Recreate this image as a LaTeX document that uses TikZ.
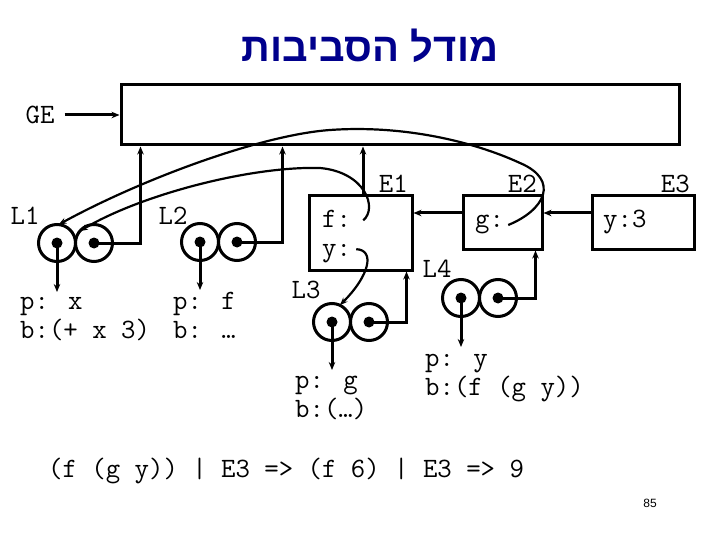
\documentclass[tikz,border=0pt]{standalone}
\usepackage{fontspec}
\setmainfont{Liberation Serif}
\newfontfamily\hebfont[Script=Hebrew]{Liberation Sans}
\newfontfamily\numfont{Liberation Sans}
\TeXXeTstate=1
\usetikzlibrary{arrows.meta,positioning}
\definecolor{titleblue}{RGB}{0,0,140}

\begin{document}
\begin{tikzpicture}[x=1pt, y=-1pt,
  mono/.style={font=\fontsize{28}{29}\selectfont\ttfamily},
  envbox/.style={draw, line width=3pt, inner sep=0pt},
  cell/.style={draw, circle, line width=3pt, minimum size=37pt, inner sep=0pt, outer sep=0pt},
  link/.style={-{Stealth[length=8pt,width=6.5pt]}, line width=3pt},
  ptr/.style={-{Stealth[length=8pt,width=6pt]}, line width=2.2pt}]

% Frame
\path[use as bounding box, fill=white] (0,0) rectangle (720,540);

% Title
\node[font=\hebfont\fontsize{40}{42}\selectfont\bfseries, text=titleblue] (title) at (370,46) {\beginR מודל הסביבות\endR};

% Global environment
\node[envbox, minimum width=558pt, minimum height=60pt] (ge) at (400,115) {};
\node[mono, inner sep=0pt] (getxt) at (40,115) {GE};
\draw[link] ([xshift=10pt]getxt.east) -- (ge.west);

% Environment frames
\node[envbox, minimum width=103pt, minimum height=74pt] (E1) at (360.5,233) {};
\node[envbox, minimum width=79pt, minimum height=53pt] (E2) at (502.5,222.5) {};
\node[envbox, minimum width=102pt, minimum height=53pt] (E3) at (643,222.5) {};
\node[mono, anchor=base east, inner sep=0pt] (E1lbl) at (408,193) {E1};
\node[mono, anchor=base east, inner sep=0pt] (E2lbl) at (537,193) {E2};
\node[mono, anchor=base east, inner sep=0pt] (E3lbl) at (690,193) {E3};

% Bindings
\node[mono, anchor=base west, inner sep=0pt] (f) at (322,227) {f:};
\node[mono, anchor=base west, inner sep=0pt] (y) at (322,256) {y:};
\node[mono, anchor=base west, inner sep=0pt] (g) at (475,228) {g:};
\node[mono, anchor=base west, inner sep=0pt] (y3) at (603,228) {y:3};

% Parent links
\draw[link] ([yshift=9.5pt]E3.west) -- ([yshift=9.5pt]E3.west -| E2.east);
\draw[link] ([yshift=9.5pt]E2.west) -- ([yshift=9.5pt]E2.west -| E1.east);
\draw[link] ([xshift=2.5pt]E1.north) -- ([xshift=2.5pt]E1.north |- ge.south);

% Closures (two cells each)
\foreach \n/\cx/\cy/\drop in {L1/57/243/49, L2/200/242/48, L3/332/322/48, L4/461/298/49} {
  \node[cell] (\n a) at (\cx,\cy) {};
  \node[cell, right=0pt of \n a] (\n b) {};
  \fill (\n a) circle (5.5);
  \fill (\n b) circle (5.5);
  \draw[link] (\n a.center) -- ++(0,\drop) coordinate (\n end);
}
\node[mono, anchor=base, inner sep=0pt] (L1lbl) at (25,225) {L1};
\node[mono, anchor=base, inner sep=0pt] (L2lbl) at (173,225) {L2};
\node[mono, anchor=base, inner sep=0pt] (L3lbl) at (306,298) {L3};
\node[mono, anchor=base, inner sep=0pt] (L4lbl) at (437,277) {L4};

% Environment pointers of closures
\draw[link] (L1b.center) -| ([xshift=21pt]ge.south west);
\draw[link] (L2b.center) -| ([xshift=163pt]ge.south west);
\draw[link] (L3b.center) -| ([xshift=-7pt]E1.south east);
\draw[link] (L4b.center) -| ([xshift=-8pt]E2.south east);

% Parameters and bodies
\node[mono, anchor=base west, inner sep=0pt] (L1p) at (20,309) {p: x};
\node[mono, anchor=base west, inner sep=0pt] (L1body) at (20,338) {b:(+ x 3)};
\node[mono, anchor=base west, inner sep=0pt] (L2p) at (173,309) {p: f};
\node[mono, anchor=base west, inner sep=0pt] (L2body) at (173,338) {b: …};
\node[mono, anchor=base west, inner sep=0pt] (L3p) at (295,388) {p: g};
\node[mono, anchor=base west, inner sep=0pt] (L3body) at (295,417) {b:(…)};
\node[mono, anchor=base west, inner sep=0pt] (L4p) at (425,366) {p: y};
\node[mono, anchor=base west, inner sep=0pt] (L4body) at (425,395) {b:(f (g y))};

% Values bound in frames
\draw[ptr] ([xshift=12pt,yshift=-2pt]f.east) .. controls (378,208) and (365,172) .. (320,168)
  .. controls (250,166) and (140,195) .. (L1b.140);
\draw[ptr] ([xshift=4pt]g.east) .. controls (545,210) and (560,180) .. (520,163)
  .. controls (470,140) and (400,125) .. (330,130)
  .. controls (260,135) and (140,180) .. (L1a.85);
\draw[ptr] ([xshift=5pt,yshift=4pt]y.east) .. controls (375,250) and (370,275) .. (L3a.65);

% Evaluation
\node[mono, anchor=base west, inner sep=0pt] (trace) at (48,477) {(f (g y)) | E3 => (f 6) | E3 => 9};
\node[font=\numfont\fontsize{12}{14}\selectfont] (page) at (650,503) {85};

\end{tikzpicture}
\end{document}
